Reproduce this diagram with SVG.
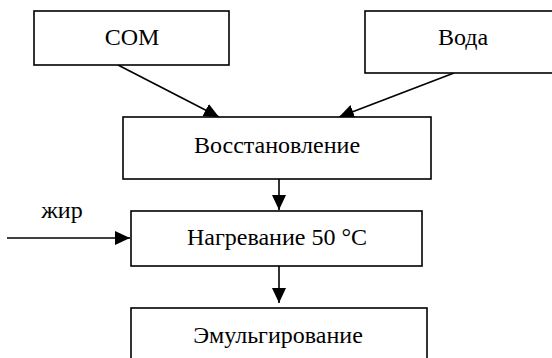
<svg xmlns="http://www.w3.org/2000/svg" width="552" height="358" viewBox="0 0 552 358">
<style>
.box{fill:#fff;stroke:#000;stroke-width:1.6}
.t{font-family:'Liberation Serif','Times New Roman',serif;font-size:24px;fill:#000;text-anchor:middle}
.c{stroke:#000;stroke-width:1.6;fill:none;marker-end:url(#ah)}
</style>
<defs>
<marker id="ah" markerUnits="userSpaceOnUse" markerWidth="16" markerHeight="16" viewBox="0 0 16 16" refX="15" refY="8" orient="auto">
<path d="M0,1 L15,8 L0,15 Z" fill="#000"/>
</marker>
</defs>
<g id="connectors">
<line class="c" x1="118" y1="65" x2="219" y2="117"/>
<line class="c" x1="454" y1="73" x2="339" y2="117"/>
<line class="c" x1="279" y1="179" x2="279" y2="210"/>
<line class="c" x1="7" y1="238" x2="130" y2="238"/>
<line class="c" x1="279" y1="266" x2="279" y2="303"/>
</g>
<g id="com">
<rect class="box" x="34" y="11" width="195" height="54"/>
<text class="t" x="132" y="45">СОМ</text>
</g>
<g id="voda">
<rect class="box" x="365" y="11" width="200" height="62"/>
<text class="t" x="463" y="45">Вода</text>
</g>
<g id="vosst">
<rect class="box" x="123" y="117" width="308" height="62"/>
<text class="t" x="277" y="153">Восстановление</text>
</g>
<g id="nagrev">
<rect class="box" x="131" y="211" width="291" height="55"/>
<text class="t" x="277" y="245">Нагревание 50 °C</text>
</g>
<g id="emul">
<rect class="box" x="131" y="308" width="296" height="70"/>
<text class="t" x="278" y="343">Эмульгирование</text>
</g>
<g id="fat-label">
<text class="t" x="62" y="218">жир</text>
</g>
</svg>
